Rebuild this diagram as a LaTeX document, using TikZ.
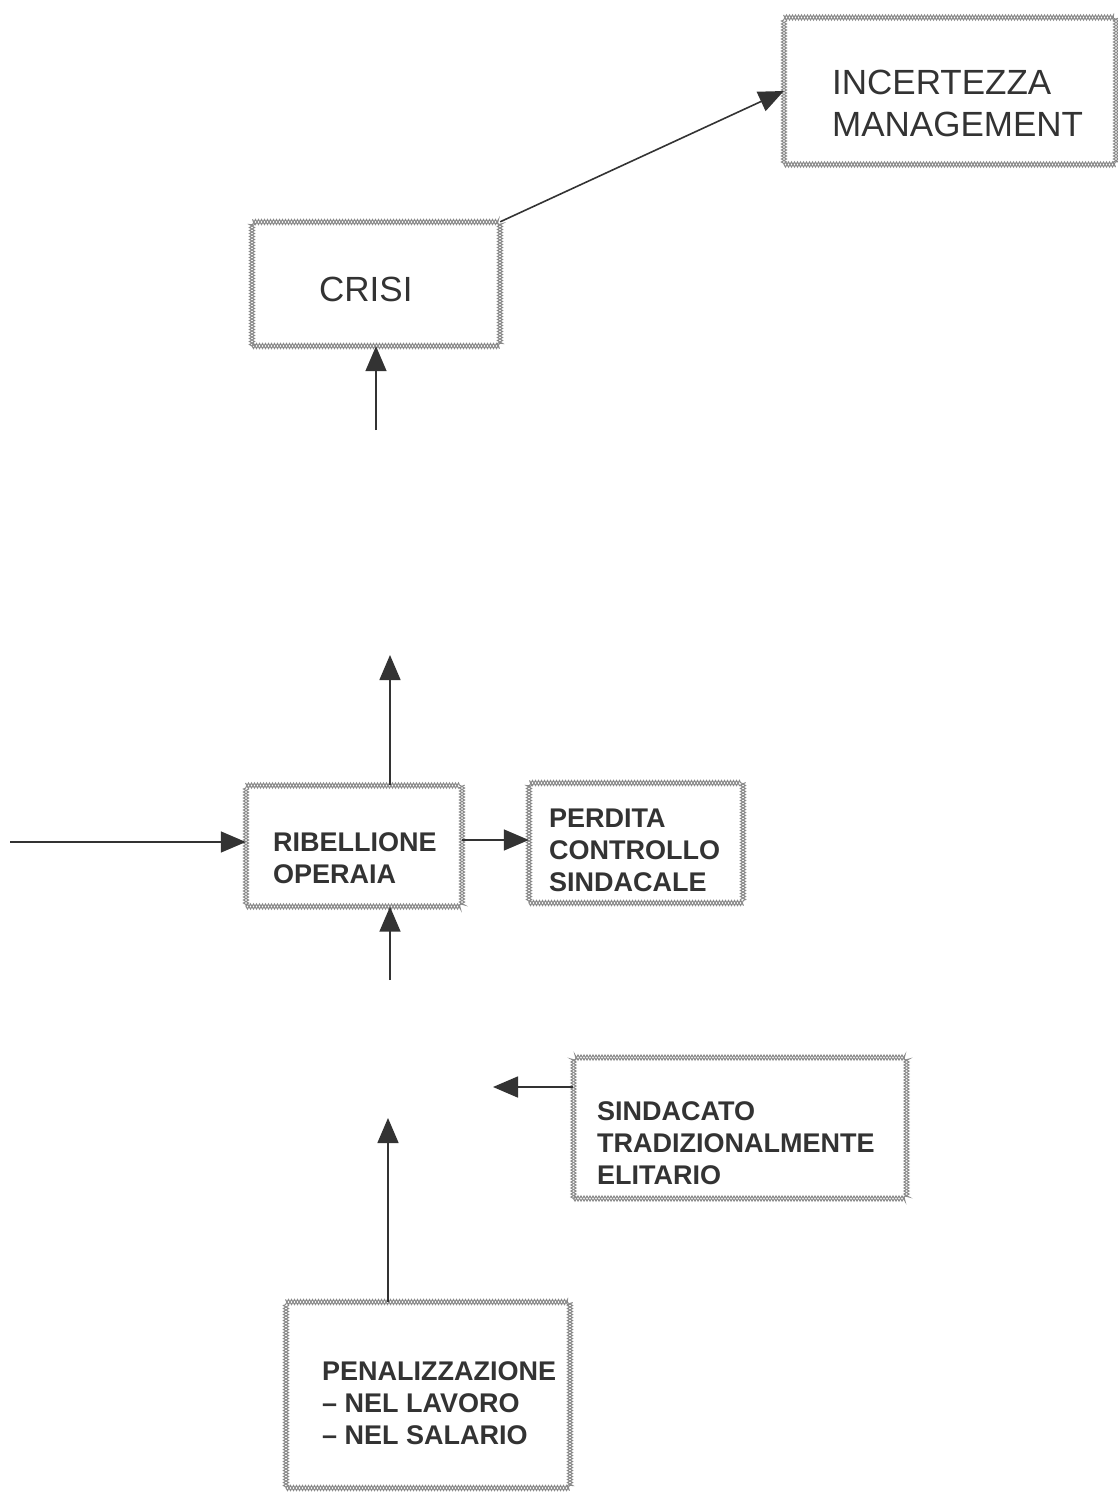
\documentclass[tikz,border=0pt]{standalone}
\usepackage{fontspec}
\setmainfont{Liberation Sans}
\usetikzlibrary{arrows.meta,decorations.pathmorphing}
\definecolor{ink}{HTML}{333333}
\definecolor{rim}{HTML}{8A8A8A}
\tikzset{
  chainbox/.style={rectangle, inner sep=0pt,
    postaction={draw=rim, line width=1pt, decorate,
      decoration={zigzag, amplitude=2.6pt, segment length=6pt}},
    postaction={draw=rim, line width=1pt, decorate,
      decoration={zigzag, amplitude=2.6pt, segment length=6pt, mirror}}},
  boxtext/.style={inner sep=0pt, text=ink, align=left, anchor=west},
  bigtext/.style={boxtext, font=\fontsize{35}{42}\selectfont},
  smalltext/.style={boxtext, font=\bfseries\fontsize{27}{32}\selectfont},
  link/.style={draw=ink, line width=1.6pt,
    -{Triangle[length=25pt,width=21pt]}}
}
\begin{document}
\begin{tikzpicture}[x=1pt,y=-1pt]
\useasboundingbox (0,0) rectangle (1118,1493);

% framed boxes
\node[chainbox, minimum width=332pt, minimum height=147pt] (inc)   at (950,91)   {};
\node[chainbox, minimum width=248pt, minimum height=124pt] (crisi) at (376,284)  {};
\node[chainbox, minimum width=216pt, minimum height=121pt] (rib)   at (354,846)  {};
\node[chainbox, minimum width=214pt, minimum height=120pt] (perd)  at (636,843)  {};
\node[chainbox, minimum width=333pt, minimum height=141pt] (sind)  at (740,1128) {};
\node[chainbox, minimum width=284pt, minimum height=186pt] (pen)   at (428,1395) {};

% box texts
\node[bigtext]   (incT)   at (832,103)  {INCERTEZZA\\MANAGEMENT};
\node[bigtext]   (crisiT) at (319,289)  {CRISI};
\node[smalltext] (ribT)   at (273,858)  {RIBELLIONE\\OPERAIA};
\node[smalltext] (perdT)  at (549,850)  {PERDITA\\CONTROLLO\\SINDACALE};
\node[smalltext] (sindT)  at (597,1143) {SINDACATO\\TRADIZIONALMENTE\\ELITARIO};
\node[smalltext] (penT)   at (322,1403) {PENALIZZAZIONE\\-- NEL LAVORO\\-- NEL SALARIO};

% free ends of the open connectors
\coordinate (crisiIn)  at (376,430);
\coordinate (ribOut)   at (390,655);
\coordinate (ribLeft)  at (10,842);
\coordinate (ribIn)    at (390,980);
\coordinate (sindOut)  at (493,1087);
\coordinate (penOut)   at (388,1118);

% connectors
\draw[link] (crisi.north east) -- (inc.west);
\draw[link] (crisiIn) -- (crisi.south);
\draw[link] (rib.north -| ribOut) -- (ribOut);
\draw[link] (ribLeft) -- (rib.west |- ribLeft);
\draw[link] (rib.east |- 0,840) -- (perd.west |- 0,840);
\draw[link] (ribIn) -- (rib.south -| ribIn);
\draw[link] (sind.west |- sindOut) -- (sindOut);
\draw[link] (pen.north -| penOut) -- (penOut);
\end{tikzpicture}
\end{document}
